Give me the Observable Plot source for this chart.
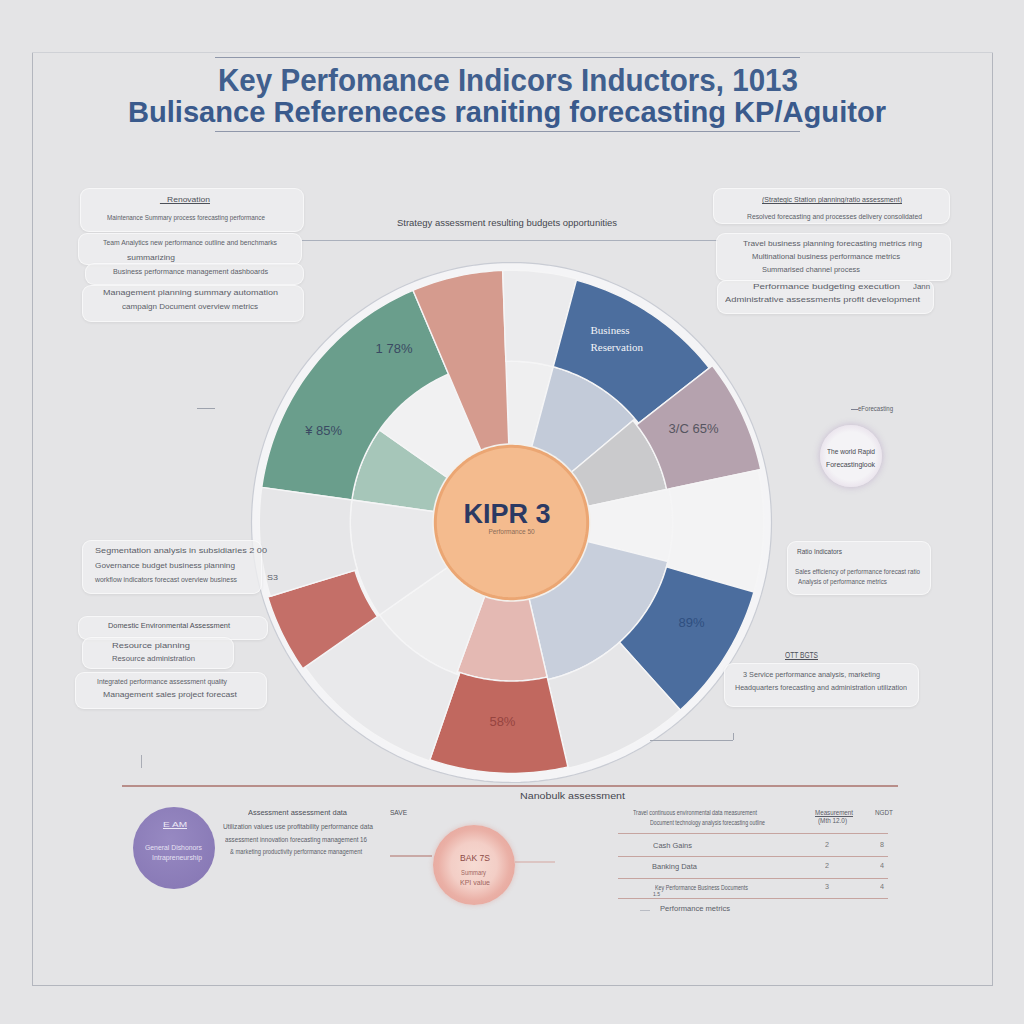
<!DOCTYPE html>
<html>
<head>
<meta charset="utf-8">
<script src="https://cdn.jsdelivr.net/npm/d3@7"></script>
<script src="https://cdn.jsdelivr.net/npm/@observablehq/plot@0.6"></script>
<style>
  html, body { margin: 0; padding: 0; background: #e4e4e6; }
  #root { position: relative; width: 1024px; height: 1024px; overflow: hidden; background: #e4e4e6;
    font-family: "Liberation Sans Narrow", "Liberation Sans", Arial, sans-serif; }
  .abs { position: absolute; }
  .box { position: absolute; background: rgba(238,238,240,0.78); border-radius: 9px;
    box-shadow: 0 1px 3px rgba(0,0,0,0.07); border: 1px solid rgba(255,255,255,0.6); }
  .rule { position: absolute; height: 0; }
  #wheel { position: absolute; left: 241px; top: 252px; }
</style>
</head>
<body>
<div id="root"></div>
<script>
// ---------------- DATA ----------------
// Outer band of the KPI wheel (angles in degrees, clockwise from 12 o'clock; radii in score units 0-100)
const outerKeys   = ["Growth", "Revenue", "Idle A", "Business Reservation", "Cost", "Idle B", "Retention", "Idle C", "Margin", "Idle D", "Risk", "Idle E"];
const outerStart  = [278, 337, 358, 15, 52, 78, 106, 138, 167, 199, 235, 253];
const outerEnd    = [337, 358, 375, 52, 78, 106, 138, 167, 199, 235, 253, 278];
const outerBase   = [62, 29, 62, 62, 61, 62, 62, 62, 61, 62, 63, 62];
const outerValue  = [97, 97, 97, 96.5, 98, 97, 97, 97, 96.5, 97, 98, 97];

// Inner band of the wheel
const innerKeys   = ["Growth (inner)", "Blank 1", "Blank 2", "Reservation (inner)", "Cost (inner)", "Blank 3", "Retention (inner)", "Margin (inner)", "Blank 4", "Blank 5"];
const innerStart  = [278, 305, 358, 15, 50, 78, 104, 167, 200, 235];
const innerEnd    = [305, 337, 375, 50, 78, 104, 167, 200, 235, 278];
const innerBase   = [29, 29, 29, 29, 29, 29, 29, 29, 29, 29];
const innerValue  = [62, 62, 62, 62, 61, 62, 62, 61, 62, 62];

// Value labels on the wheel
const labelText   = ["1 78%", "¥ 85%", "3/C 65%", "89%", "58%"];
const labelAngle  = [326, 296, 62.7, 119, 182.6];
const labelRadius = [80.8, 80.4, 78.8, 79.2, 76.9];

const centerTitle = "KIPR 3";
const centerSub   = "Performance 50";
const centerRadius = 29.3;
const wheelMax = 100;

// Table values (bottom right)
const tableRows  = ["Cash Gains", "Banking Data", "Key Performance Business Documents", "Performance metrics"];
const tableCol2  = ["2", "2", "3", ""];
const tableCol3  = ["8", "4", "4", ""];

// ---------------- STYLES ----------------
const outerPalette = ["#6a9e8c", "#d59b8e", "#ebebed", "#4c6e9e", "#b5a2ae", "#f3f3f4", "#4b6d9e", "#e6e6e8", "#c1685f", "#e9e9eb", "#c46f68", "#e6e6e8"];
const innerPalette = ["#a6c6b9", "#f1f1f2", "#efeff0", "#c3cbd9", "#cacacc", "#f3f3f4", "#c8cfdc", "#e4b9b3", "#eeeeef", "#e9e9eb"];

// ---------------- WHEEL (Observable Plot, azimuthal projection) ----------------
function sector(a0, a1, r0, r1) {
  const pts = [];
  const n = Math.max(2, Math.ceil(Math.abs(a1 - a0)));
  for (let i = 0; i <= n; i++) { const a = a0 + (a1 - a0) * i / n; pts.push([180 - a, 90 - r1]); }
  for (let i = n; i >= 0; i--) { const a = a0 + (a1 - a0) * i / n; pts.push([180 - a, 90 - r0]); }
  pts.push(pts[0]);
  let g = {type: "Polygon", coordinates: [pts]};
  if (d3.geoArea(g) > 2 * Math.PI) g = {type: "Polygon", coordinates: [pts.slice().reverse()]};
  return g;
}
const outerSectors = outerKeys.map((k, i) => ({type: "Feature", properties: {key: k},
  geometry: sector(outerStart[i], outerEnd[i], outerBase[i], outerValue[i])}));
const innerSectors = innerKeys.map((k, i) => ({type: "Feature", properties: {key: k},
  geometry: sector(innerStart[i], innerEnd[i], innerBase[i], innerValue[i])}));
const labels = labelText.map((t, i) => ({text: t, lon: 180 - labelAngle[i], lat: 90 - labelRadius[i]}));

const rim = d3.geoCircle().center([0, 90]).radius(wheelMax)();
const hub = d3.geoCircle().center([0, 90]).radius(centerRadius)();
const hubHalo = d3.geoCircle().center([0, 90]).radius(centerRadius + 1.2)();

const W = 540;
const projection = d3.geoAzimuthalEquidistant().rotate([0, -90]).fitExtent([[10, 10], [W - 10, W - 10]], rim);

const lbl = (i, o) => Plot.text([labels[i]], {x: "lon", y: "lat", text: "text", fontSize: 13,
  fontFamily: "Liberation Sans, Arial, sans-serif", ...o});

const wheel = Plot.plot({
  width: W, height: W, margin: 0,
  projection,
  style: {background: "transparent", overflow: "visible"},
  color: {domain: [...innerKeys, ...outerKeys], range: [...innerPalette, ...outerPalette]},
  marks: [
    Plot.geo([rim], {fill: "#f4f4f6", stroke: "#c9ccd4", strokeWidth: 1.2}),
    Plot.geo(innerSectors, {fill: d => d.properties.key, stroke: "#f5f5f6", strokeWidth: 1.4}),
    Plot.geo(outerSectors, {fill: d => d.properties.key, stroke: "#f5f5f6", strokeWidth: 1.4}),
    Plot.geo([hubHalo], {fill: "#f3f0ec"}),
    Plot.geo([hub], {fill: "#f4bb8e", stroke: "#eba673", strokeWidth: 3}),
    lbl(0, {fill: "#3a4a63"}),
    lbl(1, {fill: "#3a4a63"}),
    lbl(2, {fill: "#555560"}),
    lbl(3, {fill: "#2f4f80"}),
    lbl(4, {fill: "#96443f"}),
    Plot.text([{t: "Business\nReservation", lon: 180 - 23.1, lat: 90 - 77.4}], {x: "lon", y: "lat", text: "t",
      textAnchor: "start", fill: "#f2f4f8", fontSize: 11, lineHeight: 1.55, fontFamily: "Liberation Serif, serif"}),
    Plot.text([{t: centerTitle, lon: 180 - 330, lat: 90 - 3.5}], {x: "lon", y: "lat", text: "t",
      fill: "#2b3963", fontSize: 27, fontWeight: "bold", fontFamily: "Liberation Sans, Arial, sans-serif"}),
    Plot.text([{t: centerSub, lon: 0, lat: 90 - 3.6}], {x: "lon", y: "lat", text: "t",
      fill: "#8a6b58", fontSize: 6.5, fontFamily: "Liberation Sans, Arial, sans-serif"})
  ]
});
wheel.id = "wheel";

// ---------------- PAGE LAYOUT ----------------
const root = document.getElementById("root");
root.appendChild(wheel);
function el(tag, cls, css) { const e = document.createElement(tag); if (cls) e.className = cls; e.style.cssText = css || ""; root.appendChild(e); return e; }
function box(x, y, w, h, extra) { return el("div", "box", `left:${x}px;top:${y}px;width:${w}px;height:${h}px;${extra || ""}`); }
function hline(x0, x1, y, color, th) { return el("div", "rule", `left:${x0}px;top:${y}px;width:${x1 - x0}px;border-top:${th || 1}px solid ${color}`); }
function vline(x, y0, y1, color, th) { return el("div", "rule", `left:${x}px;top:${y0}px;height:${y1 - y0}px;width:0;border-left:${th || 1}px solid ${color}`); }
function txt(s, x0, x1, y, size, o = {}) {
  const lh = o.lh || 1.2;
  const e = el("div", "abs", `left:${x0}px;top:${y - size * lh / 2}px;font-size:${size}px;line-height:${lh};white-space:nowrap;transform-origin:0 0;` +
    `color:${o.color || "#5b5e68"};font-weight:${o.weight || 400};font-family:${o.font || "inherit"};` +
    (o.underline ? "text-decoration:underline;" : ""));
  e.textContent = s;
  const w = e.getBoundingClientRect().width;
  if (w > 0) e.style.transform = `scaleX(${(x1 - x0) / w})`;
  return e;
}

// frame
vline(32, 52, 985, "#b3b6be");
vline(992, 52, 985, "#b3b6be");
hline(32, 993, 985, "#b3b6be");
hline(32, 993, 52, "#cfd1d6");

// title
hline(215, 800, 57, "#8f97aa");
hline(215, 800, 131, "#8f97aa");
txt("Key Perfomance Indicors Inductors,  1013", 218, 798, 80, 32, {color: "#405f8e", weight: 700, lh: 0.95, font: "Liberation Sans, Arial, sans-serif"});
txt("Bulisance Refereneces raniting forecasting KP/Aguitor", 128, 886, 112, 30, {color: "#3a5a8c", weight: 700, lh: 0.95, font: "Liberation Sans, Arial, sans-serif"});

// upper rule with caption
txt("Strategy assessment resulting budgets opportunities", 397, 617, 223, 9, {color: "#44474f"});
hline(302, 718, 240, "#aab0bc");

// left top boxes
box(80, 188, 222, 42);
txt("_ Renovation", 160, 210, 200, 8, {color: "#4d5058", underline: true});
txt("Maintenance Summary process forecasting performance", 107, 265, 218, 8);
box(78, 233, 222, 30);
txt("Team Analytics new performance outline and benchmarks", 103, 277, 243, 8);
txt("summarizing", 127, 175, 258, 8);
box(85, 263, 217, 20);
txt("Business performance management dashboards", 113, 268, 272, 8);
box(82, 285, 220, 35);
txt("Management planning summary automation", 103, 278, 293, 8);
txt("campaign Document overview metrics", 122, 258, 307, 8);

// right top boxes
box(713, 188, 235, 34);
txt("(Strategic Station planning/ratio assessment)", 762, 902, 200, 8, {color: "#4d5058", underline: true});
txt("Resolved forecasting and processes delivery consolidated", 747, 922, 217, 8);
box(716, 233, 233, 46);
txt("Travel business planning forecasting metrics ring", 743, 922, 244, 8);
txt("Multinational business performance metrics", 752, 900, 257, 8);
txt("Summarised channel process", 762, 860, 270, 8);
box(717, 280, 215, 32);
txt("Performance budgeting execution", 753, 900, 287, 8);
txt("Jann", 913, 930, 287, 8);
txt("Administrative assessments profit development", 725, 920, 300, 8);

// side markers
hline(197, 215, 408, "#9da2ad");
hline(851, 858, 409, "#7d8090");
txt("eForecasting", 858, 893, 408, 7.5);

// right mid circle
el("div", "abs", "left:820px;top:425px;width:62px;height:62px;border-radius:50%;background:radial-gradient(circle,#f4f3f6 55%,#e6dde9 80%,#d9cbe0 100%);box-shadow:0 0 7px rgba(160,130,180,0.45);");
txt("The world Rapid", 827, 875, 451, 7.5, {color: "#44474f"});
txt("Forecastinglook", 826, 875, 464, 7.5, {color: "#44474f"});

// left mid boxes
box(82, 540, 178, 52);
txt("Segmentation analysis in subsidiaries 2 00", 95, 267, 551, 8);
txt("Governance budget business planning", 95, 235, 566, 8);
txt("workflow indicators forecast overview business", 95, 237, 580, 8);
txt("S3", 267, 278, 578, 8);
box(78, 616, 188, 22);
txt("Domestic Environmental Assessment", 108, 230, 626, 8, {color: "#4d5058"});
box(82, 637, 150, 30);
txt("Resource planning", 112, 190, 646, 8);
txt("Resource administration", 112, 195, 659, 8);
box(75, 672, 190, 35);
txt("Integrated performance assessment quality", 97, 227, 682, 8);
txt("Management sales project forecast", 103, 237, 695, 8);

// right mid boxes
box(787, 541, 142, 52);
txt("Ratio Indicators", 797, 842, 552, 8, {color: "#4d5058"});
txt("Sales efficiency of performance forecast ratio", 795, 920, 572, 8);
txt("Analysis of performance metrics", 798, 887, 582, 8);
txt("OTT BGTS", 785, 818, 655, 8.5, {color: "#4d5058", underline: true});
box(724, 663, 193, 42);
txt("3 Service performance analysis, marketing", 743, 880, 675, 8);
txt("Headquarters forecasting and administration utilization", 735, 907, 688, 8);
hline(650, 733, 740, "#a0a5b0");
vline(733, 733, 740, "#a0a5b0");
vline(141, 755, 768, "#a9acb5");

// bottom section
hline(122, 898, 785, "#b88e8a", 2);
txt("Nanobulk assessment", 520, 625, 796, 8.5, {color: "#44474f"});

el("div", "abs", "left:133px;top:807px;width:82px;height:82px;border-radius:50%;background:radial-gradient(circle at 45% 40%,#9789c2,#8a7bb7 70%,#8273b0);");
txt("E AM", 163, 187, 825, 8, {color: "#eeeaf6", underline: true});
txt("General Dishonors", 145, 202, 847, 7.5, {color: "#e6e1f2"});
txt("Intrapreneurship", 152, 202, 857, 7.5, {color: "#e6e1f2"});

txt("Assessment assessment data", 248, 347, 813, 8, {color: "#4d5058"});
txt("Utilization values use profitability performance data", 223, 373, 827, 8);
txt("assessment innovation forecasting management 16", 225, 367, 840, 8);
txt("& marketing productivity performance management", 230, 362, 852, 8);
txt("SAVE", 390, 407, 812, 7.5, {color: "#4d5058"});

hline(390, 432, 855, "#c9a9a6", 2);
hline(515, 555, 861, "#dcc5c3", 2);
el("div", "abs", "left:433px;top:825px;width:82px;height:80px;border-radius:50%;background:radial-gradient(circle,#f6dbd3 0%,#f3cec6 40%,#eab0a6 62%,#e39d93 100%);box-shadow:0 0 5px rgba(220,150,140,0.45);");
txt("BAK 7S", 460, 490, 858, 9, {color: "#8c4a45"});
txt("Summary", 461, 486, 873, 7, {color: "#a06660"});
txt("KPI value", 460, 490, 883, 7, {color: "#a06660"});

// table
txt("Travel continuous environmental data measurement", 633, 757, 812, 7.5);
txt("Document technology analysis forecasting outline", 650, 765, 822, 7.5);
txt("Measurement", 815, 853, 812, 7.5, {underline: true});
txt("(Mth 12.0)", 818, 847, 821, 7);
txt("NGDT", 875, 893, 812, 7.5);
[833, 856, 878, 898].forEach(y => hline(618, 888, y, "#c6a4a0", 1.5));
const rowY = [845, 866, 887, 908];
const rowX = [[653, 692], [652, 697], [655, 748], [660, 730]];
tableRows.forEach((r, i) => txt(r, rowX[i][0], rowX[i][1], rowY[i], 7.5));
txt("1.5", 653, 660, 894, 5.5);
hline(640, 650, 910, "#b9bcc4");
tableCol2.forEach((v, i) => { if (v) txt(v, 825, 829, rowY[i], 7, {color: "#777"}); });
tableCol3.forEach((v, i) => { if (v) txt(v, 880, 884, rowY[i], 7, {color: "#777"}); });
</script>
</body>
</html>
